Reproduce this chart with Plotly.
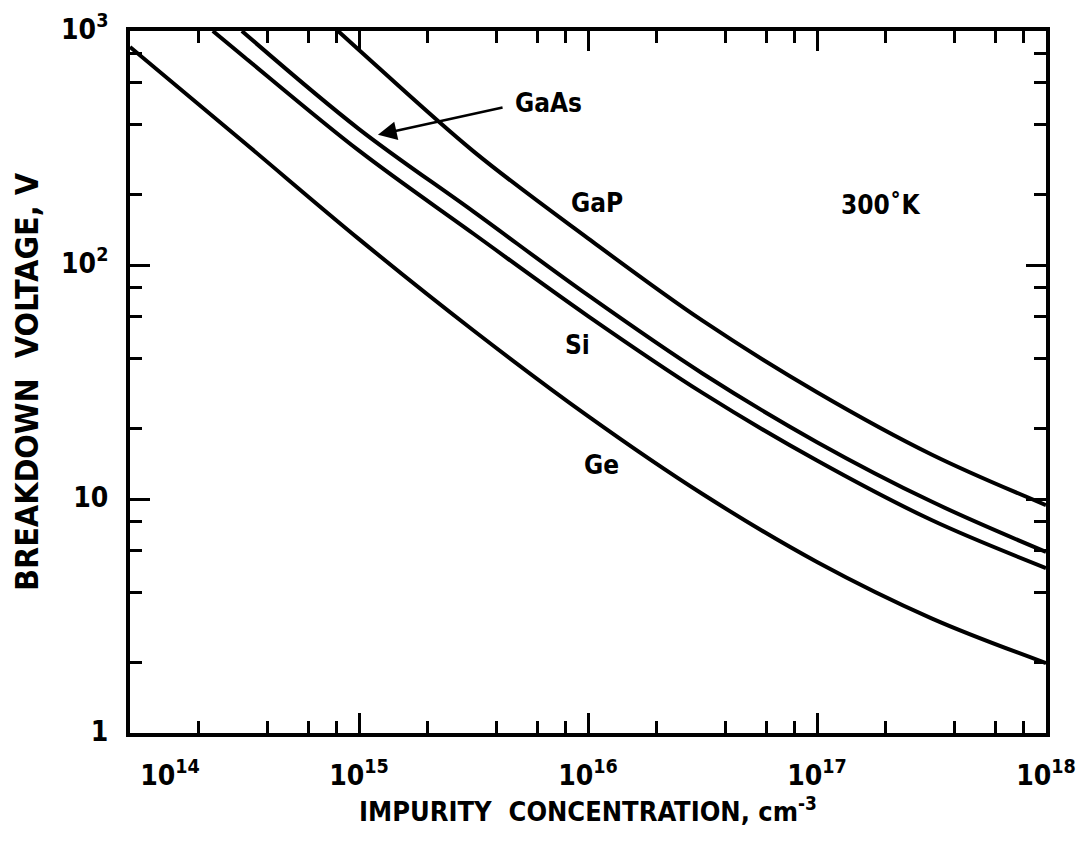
import numpy as np
import plotly.graph_objects as go

# ---- data ----
ge_n = [1e14, 10**14.5, 1e15, 10**15.5, 1e16, 10**16.5, 1e17, 10**17.5, 1e18]
ge_v = [855, 333, 129, 52.5, 22.6, 10.5, 5.38, 3.09, 1.99]

si_n = [2.3e14, 10**14.5, 1e15, 10**15.5, 1e16, 10**16.5, 1e17, 10**17.5, 1e18]
si_v = [1000, 773, 308, 136, 60.5, 28.4, 14.6, 8.13, 5.07]

gaas_n = [3.08e14, 1e15, 10**15.5, 1e16, 10**16.5, 1e17, 10**17.5, 1e18]
gaas_v = [1000, 381, 169, 74.3, 34.4, 17.5, 9.75, 5.94]

gap_n = [8.1e14, 1e15, 10**15.5, 1e16, 10**16.5, 1e17, 10**17.5, 1e18]
gap_v = [1000, 830, 306, 130, 57.8, 28.6, 15.5, 9.42]

x_tickvals = [1e14, 1e15, 1e16, 1e17, 1e18]
x_ticktext = ["\u00a0" * 10 + "<b>10<sup>14</sup></b>", "<b>10<sup>15</sup></b>", "<b>10<sup>16</sup></b>",
              "<b>10<sup>17</sup></b>", "<b>10<sup>18</sup></b>"]
y_tickvals = [1, 10, 100, 1000]
y_ticktext = ["<b>1</b>", "<b>10</b>", "<b>10<sup>2</sup></b>", "<b>10<sup>3</sup></b>"]
minor_mult = [2, 4, 6, 8]

FONT = "DejaVu Sans Condensed, Liberation Sans Narrow, DejaVu Sans, sans-serif"

fig = go.Figure()
for n, v in [(ge_n, ge_v), (si_n, si_v), (gaas_n, gaas_v), (gap_n, gap_v)]:
    fig.add_trace(go.Scatter(x=n, y=v, mode="lines",
                             line=dict(color="black", width=4, shape="spline", smoothing=1.0),
                             showlegend=False, hoverinfo="skip"))

x_minor = [m * 10.0 ** e for e in range(14, 18) for m in minor_mult]
y_minor = [m * 10.0 ** e for e in range(0, 3) for m in minor_mult]

axis_common = dict(
    type="log", showgrid=False, zeroline=False, showline=True, linecolor="black",
    linewidth=4, mirror="allticks", ticks="inside", ticklen=20, tickwidth=3,
    tickcolor="black", tickmode="array", automargin=False,
    tickfont=dict(family=FONT, size=28, color="black"),
)

fig.update_xaxes(
    **axis_common, range=[14, 18], tickvals=x_tickvals, ticktext=x_ticktext,
    ticklabelstandoff=14,
    minor=dict(tickmode="array", tickvals=x_minor, ticks="inside", ticklen=12,
               tickwidth=2.5, tickcolor="black", showgrid=False),
    title=dict(text="<b>IMPURITY  CONCENTRATION, cm<sup>-3</sup></b>",
               font=dict(family=FONT, size=27, color="black"), standoff=3),
)
fig.update_yaxes(
    **axis_common, range=[0, 3], tickvals=y_tickvals, ticktext=y_ticktext,
    ticklabelstandoff=12, ticklabelshift=-2, ticklabeloverflow="allow",
    minor=dict(tickmode="array", tickvals=y_minor, ticks="inside", ticklen=12,
               tickwidth=2.5, tickcolor="black", showgrid=False),
    title=dict(text="<b>BREAKDOWN  VOLTAGE, V</b>",
               font=dict(family=FONT, size=32, color="black"), standoff=18),
)

lab_font = dict(family=FONT, size=26, color="black")
def L(v):
    return float(np.log10(v))

labels = [("<b>GaAs</b>", 6.7e15, 492), ("<b>GaP</b>", 1.1e16, 184),
          ("<b>300˚K</b>", 1.9e17, 180), ("<b>Si</b>", 9.0e15, 45.5),
          ("<b>Ge</b>", 1.15e16, 14.0)]
for t, n, v in labels:
    fig.add_annotation(x=L(n), y=L(v), text=t, showarrow=False, font=lab_font,
                       xref="x", yref="y")

# arrow for GaAs
fig.add_annotation(x=L(1.21e15), y=L(360), ax=L(4.3e15), ay=L(473),
                   xref="x", yref="y", axref="x", ayref="y", text="",
                   showarrow=True, arrowhead=2, arrowsize=1.5, arrowwidth=2.5,
                   arrowcolor="black")

fig.update_layout(
    width=1088, height=848, paper_bgcolor="white", plot_bgcolor="white",
    margin=dict(l=122, r=50, t=23, b=123),
    font=dict(family=FONT, color="black"),
)

fig.write_html("out.html")
